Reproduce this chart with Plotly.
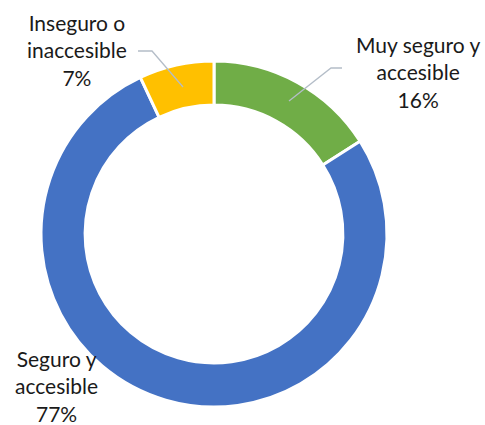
import plotly.graph_objects as go

labels = ["Muy seguro y accesible", "Seguro y accesible", "Inseguro o inaccesible"]
values = [16, 77, 7]
label_text = ["Muy seguro y<br>accesible<br>16%", "Seguro y<br>accesible<br>77%", "Inseguro o<br>inaccesible<br>7%"]
colors = ["#70AD47", "#4472C4", "#FFC000"]

W, H = 485, 425


def px(x, y):
    # pixel -> paper coords
    return x / W, 1 - y / H


fig = go.Figure(go.Pie(
    labels=labels, values=values, sort=False, direction="clockwise",
    hole=0.745, textinfo="none", hoverinfo="label+percent",
    marker=dict(colors=colors, line=dict(color="white", width=3)),
    domain=dict(x=[41 / W, 387 / W], y=[18 / H, 364 / H]),
))

# labels outside the ring
pos = [(418, 72), (56, 386), (77, 50)]
for (x, y), t in zip(pos, label_text):
    ax, ay = px(x, y)
    fig.add_annotation(x=ax, y=ay, xref="paper", yref="paper", text=t,
                       showarrow=False, align="center", xanchor="center", yanchor="middle",
                       font=dict(family="Lato", size=21, color="#1a1a1a"))

# leader lines
for pts in [[(342, 68), (331, 68), (289, 101)], [(138, 51), (152, 51), (183, 87)]]:
    path = "M " + " L ".join(f"{px(x, y)[0]},{px(x, y)[1]}" for x, y in pts)
    fig.add_shape(type="path", path=path, xref="paper", yref="paper",
                  line=dict(color="#B4BDC8", width=1.3))

fig.update_layout(width=W, height=H, margin=dict(l=0, r=0, t=0, b=0),
                  showlegend=False, paper_bgcolor="white", plot_bgcolor="white")
fig.write_html("out.html", config={"displayModeBar": False},
               post_script="document.body.style.margin='0';")
